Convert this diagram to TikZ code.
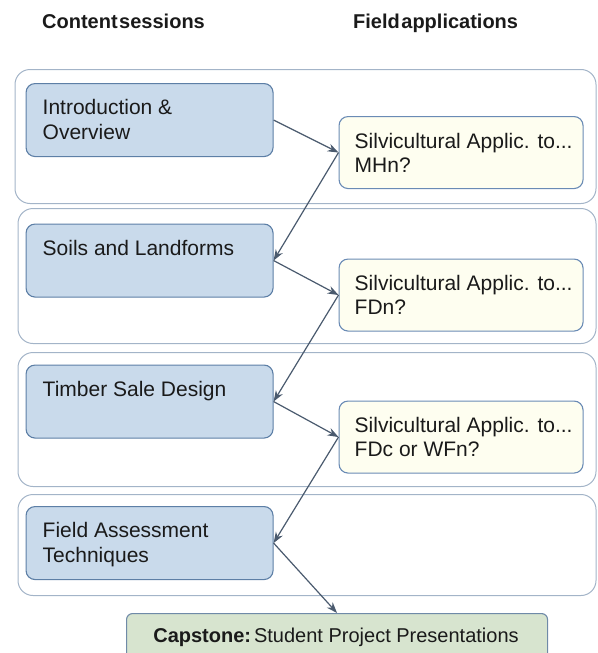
\documentclass[tikz,border=0pt]{standalone}
\usepackage{fontspec}
\setmainfont{Liberation Sans}
\usetikzlibrary{arrows.meta,positioning}
\definecolor{groupline}{HTML}{A3B4C8}
\definecolor{blueline}{HTML}{5D7FA6}
\definecolor{bluefill}{HTML}{C9DAEB}
\definecolor{yelline}{HTML}{6A8BB5}
\definecolor{yelfill}{HTML}{FEFEF0}
\definecolor{capfill}{HTML}{D7E4CF}
\definecolor{capline}{HTML}{6F8AA8}
\definecolor{arrowcol}{HTML}{4A5A6E}
\definecolor{textcol}{HTML}{1A1A1A}
\begin{document}
\begin{tikzpicture}[x=1pt,y=-1pt,
  groupbox/.style={draw=groupline,line width=1pt,rounded corners=15pt,inner sep=0pt,anchor=north west},
  bluebox/.style={draw=blueline,fill=bluefill,line width=1.1pt,rounded corners=9pt,inner sep=0pt,anchor=north west,minimum width=247pt,minimum height=73pt},
  yelbox/.style={draw=yelline,fill=yelfill,line width=1.1pt,rounded corners=9pt,inner sep=0pt,anchor=north west,minimum width=244pt,minimum height=72pt},
  capbox/.style={draw=capline,fill=capfill,line width=1.1pt,rounded corners=6pt,inner sep=0pt,anchor=north west,minimum width=421pt,minimum height=55pt},
  boxtext/.style={inner sep=0pt,anchor=base west,text=textcol,font=\fontsize{21}{24.5}\selectfont},
  headtext/.style={inner sep=0pt,anchor=base west,text=textcol,font=\fontsize{20}{24}\selectfont\bfseries},
  arr/.style={draw=arrowcol,line width=1.2pt,-{Stealth[length=11pt,width=8pt]}}
]
\useasboundingbox (0,0) rectangle (597,653);

% headings
\node[headtext] (h1) at (42,28) {Content\hspace{1.5pt}sessions};
\node[headtext] (h2) at (353,28) {Field\hspace{1.5pt}applications};

% group boxes
\node[groupbox,minimum width=581pt,minimum height=134pt] (g1) at (14.5,69) {};
\node[groupbox,minimum width=578pt,minimum height=135pt] (g2) at (17.5,208) {};
\node[groupbox,minimum width=578pt,minimum height=134pt] (g3) at (17.5,352) {};
\node[groupbox,minimum width=578pt,minimum height=101pt] (g4) at (17.5,494) {};

% content boxes
\node[bluebox] (b1) at (25.5,83) {};
\node[bluebox] (b2) at (25.5,223.5) {};
\node[bluebox] (b3) at (25.5,364.5) {};
\node[bluebox] (b4) at (25.5,506) {};

% field boxes
\node[yelbox] (y1) at (338.5,116) {};
\node[yelbox] (y2) at (338.5,258.5) {};
\node[yelbox] (y3) at (338.5,400.5) {};

% capstone
\node[capbox] (cap) at (126,613) {};

% texts
\node[boxtext] (b1t) at ([shift={(17,31.5)}]b1.north west) {\begin{tabular}[t]{@{}l@{}}Introduction \&\\Overview\end{tabular}};
\node[boxtext] (b2t) at ([shift={(17,31.5)}]b2.north west) {Soils and Landforms};
\node[boxtext] (b3t) at ([shift={(17,31.5)}]b3.north west) {Timber Sale Design};
\node[boxtext] (b4t) at ([shift={(17,31.5)}]b4.north west) {\begin{tabular}[t]{@{}l@{}}Field Assessment\\Techniques\end{tabular}};
\node[boxtext] (y1t) at ([shift={(16,32)}]y1.north west) {\begin{tabular}[t]{@{}l@{}}Silvicultural Applic. to...\\MHn?\end{tabular}};
\node[boxtext] (y2t) at ([shift={(16,31.5)}]y2.north west) {\begin{tabular}[t]{@{}l@{}}Silvicultural Applic. to...\\FDn?\end{tabular}};
\node[boxtext] (y3t) at ([shift={(16,31.5)}]y3.north west) {\begin{tabular}[t]{@{}l@{}}Silvicultural Applic. to...\\FDc or WFn?\end{tabular}};
\node[boxtext,anchor=base,font=\fontsize{20}{24}\selectfont] (capt) at (336,642) {\textbf{Capstone:}\hspace{3pt}Student Project Presentations};

% connectors
\draw[arr] (b1.east) -- (y1.west);
\draw[arr] (y1.west) -- (b2.east);
\draw[arr] (b2.east) -- (y2.west);
\draw[arr] (y2.west) -- (b3.east);
\draw[arr] (b3.east) -- (y3.west);
\draw[arr] (y3.west) -- (b4.east);
\draw[arr] (b4.east) -- (cap.north);
\end{tikzpicture}
\end{document}
